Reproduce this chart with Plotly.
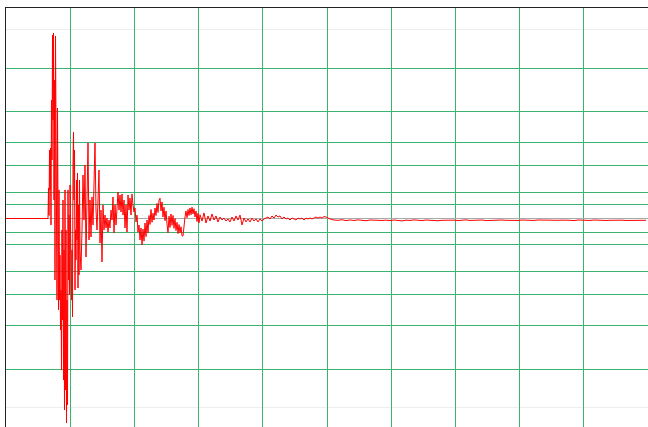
import numpy as np
import plotly.graph_objects as go

# ---- data (time in grid units, amplitude in relative units) ----
pre_t = [0.0]
pre_v = [0.0]

# segment A: onset burst, fine sampling
segA_t0 = 0.6542
segA_dt = 0.007788
segA_v = [0.0, 0.203, 0.02, 0.455, 0.19, 0.468, -0.043, 0.787, 0.389, 1.219,
          0.654, 1.233, 0.123, 0.92, -0.409, 1.213, 0.455, 0.787, -0.542, 0.734,
          -0.209, -0.608, 0.19, -0.542, -0.243, -0.741, -0.475, -1.007, -0.076, -0.674,
          0.123, -1.073, -0.209, -1.272, 0.19, -1.140, -0.076, -1.359, -0.542, -1.239,
          0.19, -0.409, 0.023, -0.508, 0.223, -0.276, -0.076, -0.542, -0.209, -0.654,
          0.355, 0.575, 0.123, 0.455, -0.475, -0.076, -0.276, 0.256, -0.143, 0.302,
          -0.462, 0.090, -0.375, 0.256, -0.209]

# segment B: decaying oscillation
segB_t0 = 1.1682
segB_dt = 0.015576
segB_v = [-0.342, -0.076, 0.289, -0.010, 0.355, -0.256, 0.256, 0.502, -0.143, 0.123,
          -0.123, 0.143, -0.043, 0.256, 0.502, 0.056, -0.076, 0.123, 0.322, -0.163,
          0.056, -0.289, 0.090, -0.076, 0.023, -0.063, 0.003, -0.090, -0.010, -0.063,
          0.056, -0.010, 0.143, -0.096, 0.090, -0.043, 0.123, 0.176, 0.056, 0.156,
          0.043, 0.163, 0.023, 0.123, -0.063, 0.090, -0.090, 0.156, 0.056, 0.136,
          0.023, 0.163, 0.090, 0.043, 0.070, -0.023, 0.023, -0.090, -0.043, -0.143,
          -0.063, -0.176, -0.070, -0.150, -0.030, -0.120, -0.010, -0.095, 0.020, -0.040,
          0.060, -0.025, 0.035, -0.010, 0.070, 0.020, 0.100, 0.040, 0.120, 0.135,
          0.050, 0.110, 0.010, 0.075, -0.015, 0.050, -0.035, -0.095, 0.015, -0.060,
          0.030, -0.045, 0.020, -0.065, 0.000, -0.080, -0.025, -0.100, -0.040, -0.095,
          -0.055, -0.115, -0.116, -0.030, 0.010, 0.050, 0.005, 0.060, 0.020, 0.070,
          0.025, 0.075, 0.030, 0.065, 0.010, 0.050, -0.020, 0.035, -0.030, 0.025]

# segment C: small residual motion
segC_t0 = 3.0530
segC_dt = 0.031153
segC_v = [-0.017, 0.037, -0.030, 0.017, -0.017, 0.030, -0.010, 0.017, -0.023, 0.010,
          -0.010, 0.003, -0.017, -0.003, -0.023, 0.010, -0.017, 0.017, -0.010, 0.023,
          -0.043, 0.003, -0.023, -0.003, -0.023, 0.003, -0.017, -0.003, -0.023, -0.003,
          -0.017, -0.003, 0.003, 0.010, -0.003, 0.017, 0.003, 0.023, 0.010, 0.017,
          -0.003, 0.010, -0.003, 0.003, -0.010, 0.003, -0.003, -0.010, 0.003, -0.003,
          0.003, -0.010, 0.003, -0.003, 0.003, -0.003, 0.003, 0.010, 0.003, 0.010,
          0.003, 0.013, 0.010, 0.003, -0.003]

# segment D: quiet tail
segD_t0 = 5.109
segD_dt = 0.0623
segD_v = [-0.010, -0.012, -0.008, -0.014, -0.010, -0.013, -0.009, -0.012, -0.015, -0.010,
          -0.012, -0.009, -0.013, -0.011, -0.014, -0.010, -0.012, -0.016, -0.011, -0.013,
          -0.009, -0.012, -0.014, -0.010, -0.013, -0.011, -0.015, -0.012, -0.010, -0.013,
          -0.011, -0.014, -0.012, -0.009, -0.013, -0.011, -0.012, -0.010, -0.014, -0.012,
          -0.011, -0.013, -0.010, -0.012, -0.014, -0.011, -0.013, -0.010, -0.012, -0.011,
          -0.013, -0.010, -0.012, -0.014, -0.011, -0.012, -0.010, -0.013, -0.011, -0.012,
          -0.014, -0.010, -0.012, -0.011, -0.013, -0.010, -0.012, -0.011, -0.013, -0.012,
          -0.010, -0.012, -0.011, -0.013, -0.012, -0.010, -0.012, -0.011, -0.012]

x_grid = [1, 2, 3, 4, 5, 6, 7, 8, 9]
y_grid = [-1.0, -0.708, -0.502, -0.355, -0.176, -0.09, 0.09, 0.176, 0.355, 0.502, 0.708, 1.0]
y_minor = [-1.259, 1.259]

t = list(pre_t)
v = list(pre_v)
for t0, dt, vals in [(segA_t0, segA_dt, segA_v), (segB_t0, segB_dt, segB_v),
                     (segC_t0, segC_dt, segC_v), (segD_t0, segD_dt, segD_v)]:
    t += list(t0 + dt * np.arange(len(vals)))
    v += list(vals)

fig = go.Figure()
fig.add_trace(go.Scatter(x=t, y=v, mode="lines",
                         line=dict(color="#ff0000", width=1), hoverinfo="skip"))

grid_green = "#3cb371"
fig.update_layout(
    width=648, height=427,
    margin=dict(l=6, r=0, t=8, b=0),
    paper_bgcolor="white", plot_bgcolor="white",
    showlegend=False,
    xaxis=dict(range=[0, 10], side="top", showline=True, linecolor="#222222", linewidth=1,
               tickvals=x_grid, showticklabels=False, ticks="",
               showgrid=True, gridcolor=grid_green, gridwidth=1, zeroline=False),
    yaxis=dict(range=[-1.3854, 1.3987], showline=True, linecolor="#222222", linewidth=1,
               tickvals=y_grid, showticklabels=False, ticks="",
               showgrid=True, gridcolor=grid_green, gridwidth=1,
               zeroline=True, zerolinecolor="#aaaaaa", zerolinewidth=1,
               minor=dict(tickvals=y_minor, showgrid=True, gridcolor="#eeeeee", gridwidth=1, ticks="")),
)

fig.write_html("out.html", config={"displayModeBar": False},
               post_script="document.body.style.margin='0px';document.body.style.overflow='hidden';")
